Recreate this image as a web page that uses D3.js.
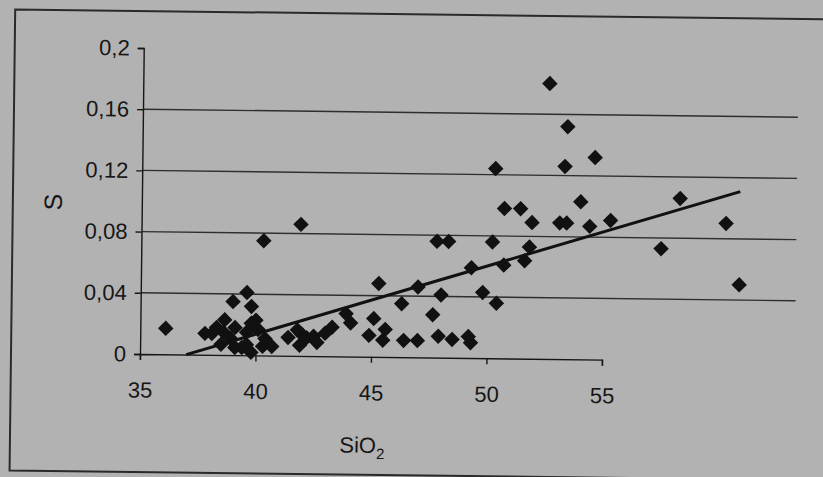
<!DOCTYPE html>
<html>
<head>
<meta charset="utf-8">
<script src="https://cdn.jsdelivr.net/npm/d3@7/dist/d3.min.js"></script>
<style>
  html, body { margin: 0; padding: 0; background: #b2b2b2; }
  svg { display: block; }
</style>
</head>
<body>
<svg id="chart" width="823" height="477"></svg>
<script>
//
// Data
//

// SiO2 content
var siO2 = [
  52.6, 53.4, 54.6, 53.3, 50.3, 54.0, 50.7, 51.4, 51.9, 53.1,
  53.4, 54.4, 55.3, 58.3, 60.3, 60.9, 57.5, 41.9, 40.3, 47.8,
  48.3, 50.2, 51.8, 51.6, 50.7, 49.3, 45.3, 47.0, 48.0, 49.8,
  50.4, 46.3, 47.65, 45.1, 43.9, 44.1, 45.6, 44.9, 45.5, 46.4,
  47.0, 47.9, 48.5, 49.2, 49.3, 43.3, 43.0, 42.65, 42.5, 42.0,
  36.1, 39.0, 39.6, 39.8, 37.8, 38.3, 38.65, 38.6, 38.9, 38.5,
  39.1, 39.6, 39.8, 40.0, 40.1, 39.6, 39.8, 40.4, 40.7, 40.3,
  38.1, 41.4, 41.8, 41.9, 42.2, 39.1, 39.4
]
// S content
var sVals = [
  0.180, 0.152, 0.132, 0.126, 0.124, 0.103, 0.098, 0.098, 0.089, 0.089,
  0.089, 0.087, 0.091, 0.106, 0.090, 0.050, 0.073, 0.086, 0.075, 0.076,
  0.076, 0.076, 0.073, 0.064, 0.061, 0.059, 0.048, 0.046, 0.041, 0.043,
  0.036, 0.035, 0.028, 0.025, 0.028, 0.022, 0.018, 0.014, 0.011, 0.011,
  0.011, 0.014, 0.012, 0.014, 0.010, 0.019, 0.015, 0.009, 0.013, 0.014,
  0.017, 0.035, 0.041, 0.032, 0.014, 0.018, 0.023, 0.015, 0.011, 0.007,
  0.018, 0.015, 0.021, 0.023, 0.017, 0.007, 0.002, 0.011, 0.006, 0.006,
  0.014, 0.012, 0.017, 0.007, 0.012, 0.005, 0.005
]
// axis ticks
var xTicks = [35, 40, 45, 50, 55]
var yTicks = [0, 0.04, 0.08, 0.12, 0.16, 0.2]
var yGrid = [0.04, 0.08, 0.12, 0.16]
// linear trend
var trendSlope = 0.00464
var trendIntercept = -0.1717
var trendRange = [37.0, 60.9]

//
// Layout
//

var svg = d3.select('#chart')
var ox = 140, oy = 354
var x = d3.scaleLinear().domain([35, 55]).range([ox, 602])
var y = d3.scaleLinear().domain([0, 0.2]).range([oy, 48])
var gridEnd = 63.35
var ink = '#161616'
var fmt = function(d) { return String(d).replace('.', ',') }

// whole photo is slightly tilted
var g = svg.append('g').attr('transform', 'rotate(0.7,' + ox + ',' + oy + ')')

// page frame
g.append('path')
  .attr('d', 'M840,11 H11 V472 H840')
  .attr('fill', 'none')
  .attr('stroke', '#2a2a2a')
  .attr('stroke-width', 2)

// gridlines
g.selectAll('.grid').data(yGrid).enter().append('line')
  .attr('x1', ox).attr('x2', x(gridEnd))
  .attr('y1', y).attr('y2', y)
  .attr('stroke', '#2e2e2e')
  .attr('stroke-width', 1.4)

// y axis
var yAxis = d3.axisLeft(y).tickValues(yTicks).tickFormat(fmt).tickSize(6).tickPadding(8)
var ya = g.append('g').attr('transform', 'translate(' + ox + ',0)').call(yAxis)
ya.select('.domain').attr('stroke', ink).attr('stroke-width', 1.4)
ya.selectAll('.tick line').attr('stroke', ink).attr('stroke-width', 1.4)
ya.selectAll('.tick text')
  .attr('fill', ink)
  .style('font', '22px "Liberation Sans", Arial, sans-serif')

// x axis
var xAxis = d3.axisBottom(x).tickValues(xTicks).tickFormat(d3.format('d')).tickSize(6).tickPadding(22)
var xa = g.append('g').attr('transform', 'translate(0,' + oy + ')').call(xAxis)
xa.select('.domain').attr('stroke', ink).attr('stroke-width', 1.4)
xa.selectAll('.tick line').attr('stroke', ink).attr('stroke-width', 1.4)
xa.selectAll('.tick text')
  .attr('fill', ink)
  .style('font', '22px "Liberation Sans", Arial, sans-serif')

// axis titles
var xt = g.append('text')
  .attr('x', (x(35) + x(55)) / 2 - 8)
  .attr('y', 450)
  .attr('text-anchor', 'middle')
  .attr('fill', ink)
  .style('font', '22px "Liberation Sans", Arial, sans-serif')
xt.append('tspan').text('SiO')
xt.append('tspan').text('2').attr('dy', 6).style('font-size', '15px')

g.append('text')
  .attr('transform', 'translate(60,203) rotate(-90)')
  .attr('text-anchor', 'middle')
  .attr('fill', ink)
  .style('font', '25px "Liberation Sans", Arial, sans-serif')
  .text('S')

// points
var diamond = d3.symbol().type(d3.symbolSquare).size(120)
g.selectAll('.pt').data(siO2).enter().append('path')
  .attr('d', diamond)
  .attr('transform', function(d, i) {
    return 'translate(' + x(d) + ',' + y(sVals[i]) + ') rotate(45)'
  })
  .attr('fill', '#111')

// trend line
var line = d3.line()
  .x(function(d) { return x(d) })
  .y(function(d) { return y(trendSlope * d + trendIntercept) })
g.append('path')
  .datum(trendRange)
  .attr('d', line)
  .attr('fill', 'none')
  .attr('stroke', '#111')
  .attr('stroke-width', 3)
</script>
</body>
</html>
